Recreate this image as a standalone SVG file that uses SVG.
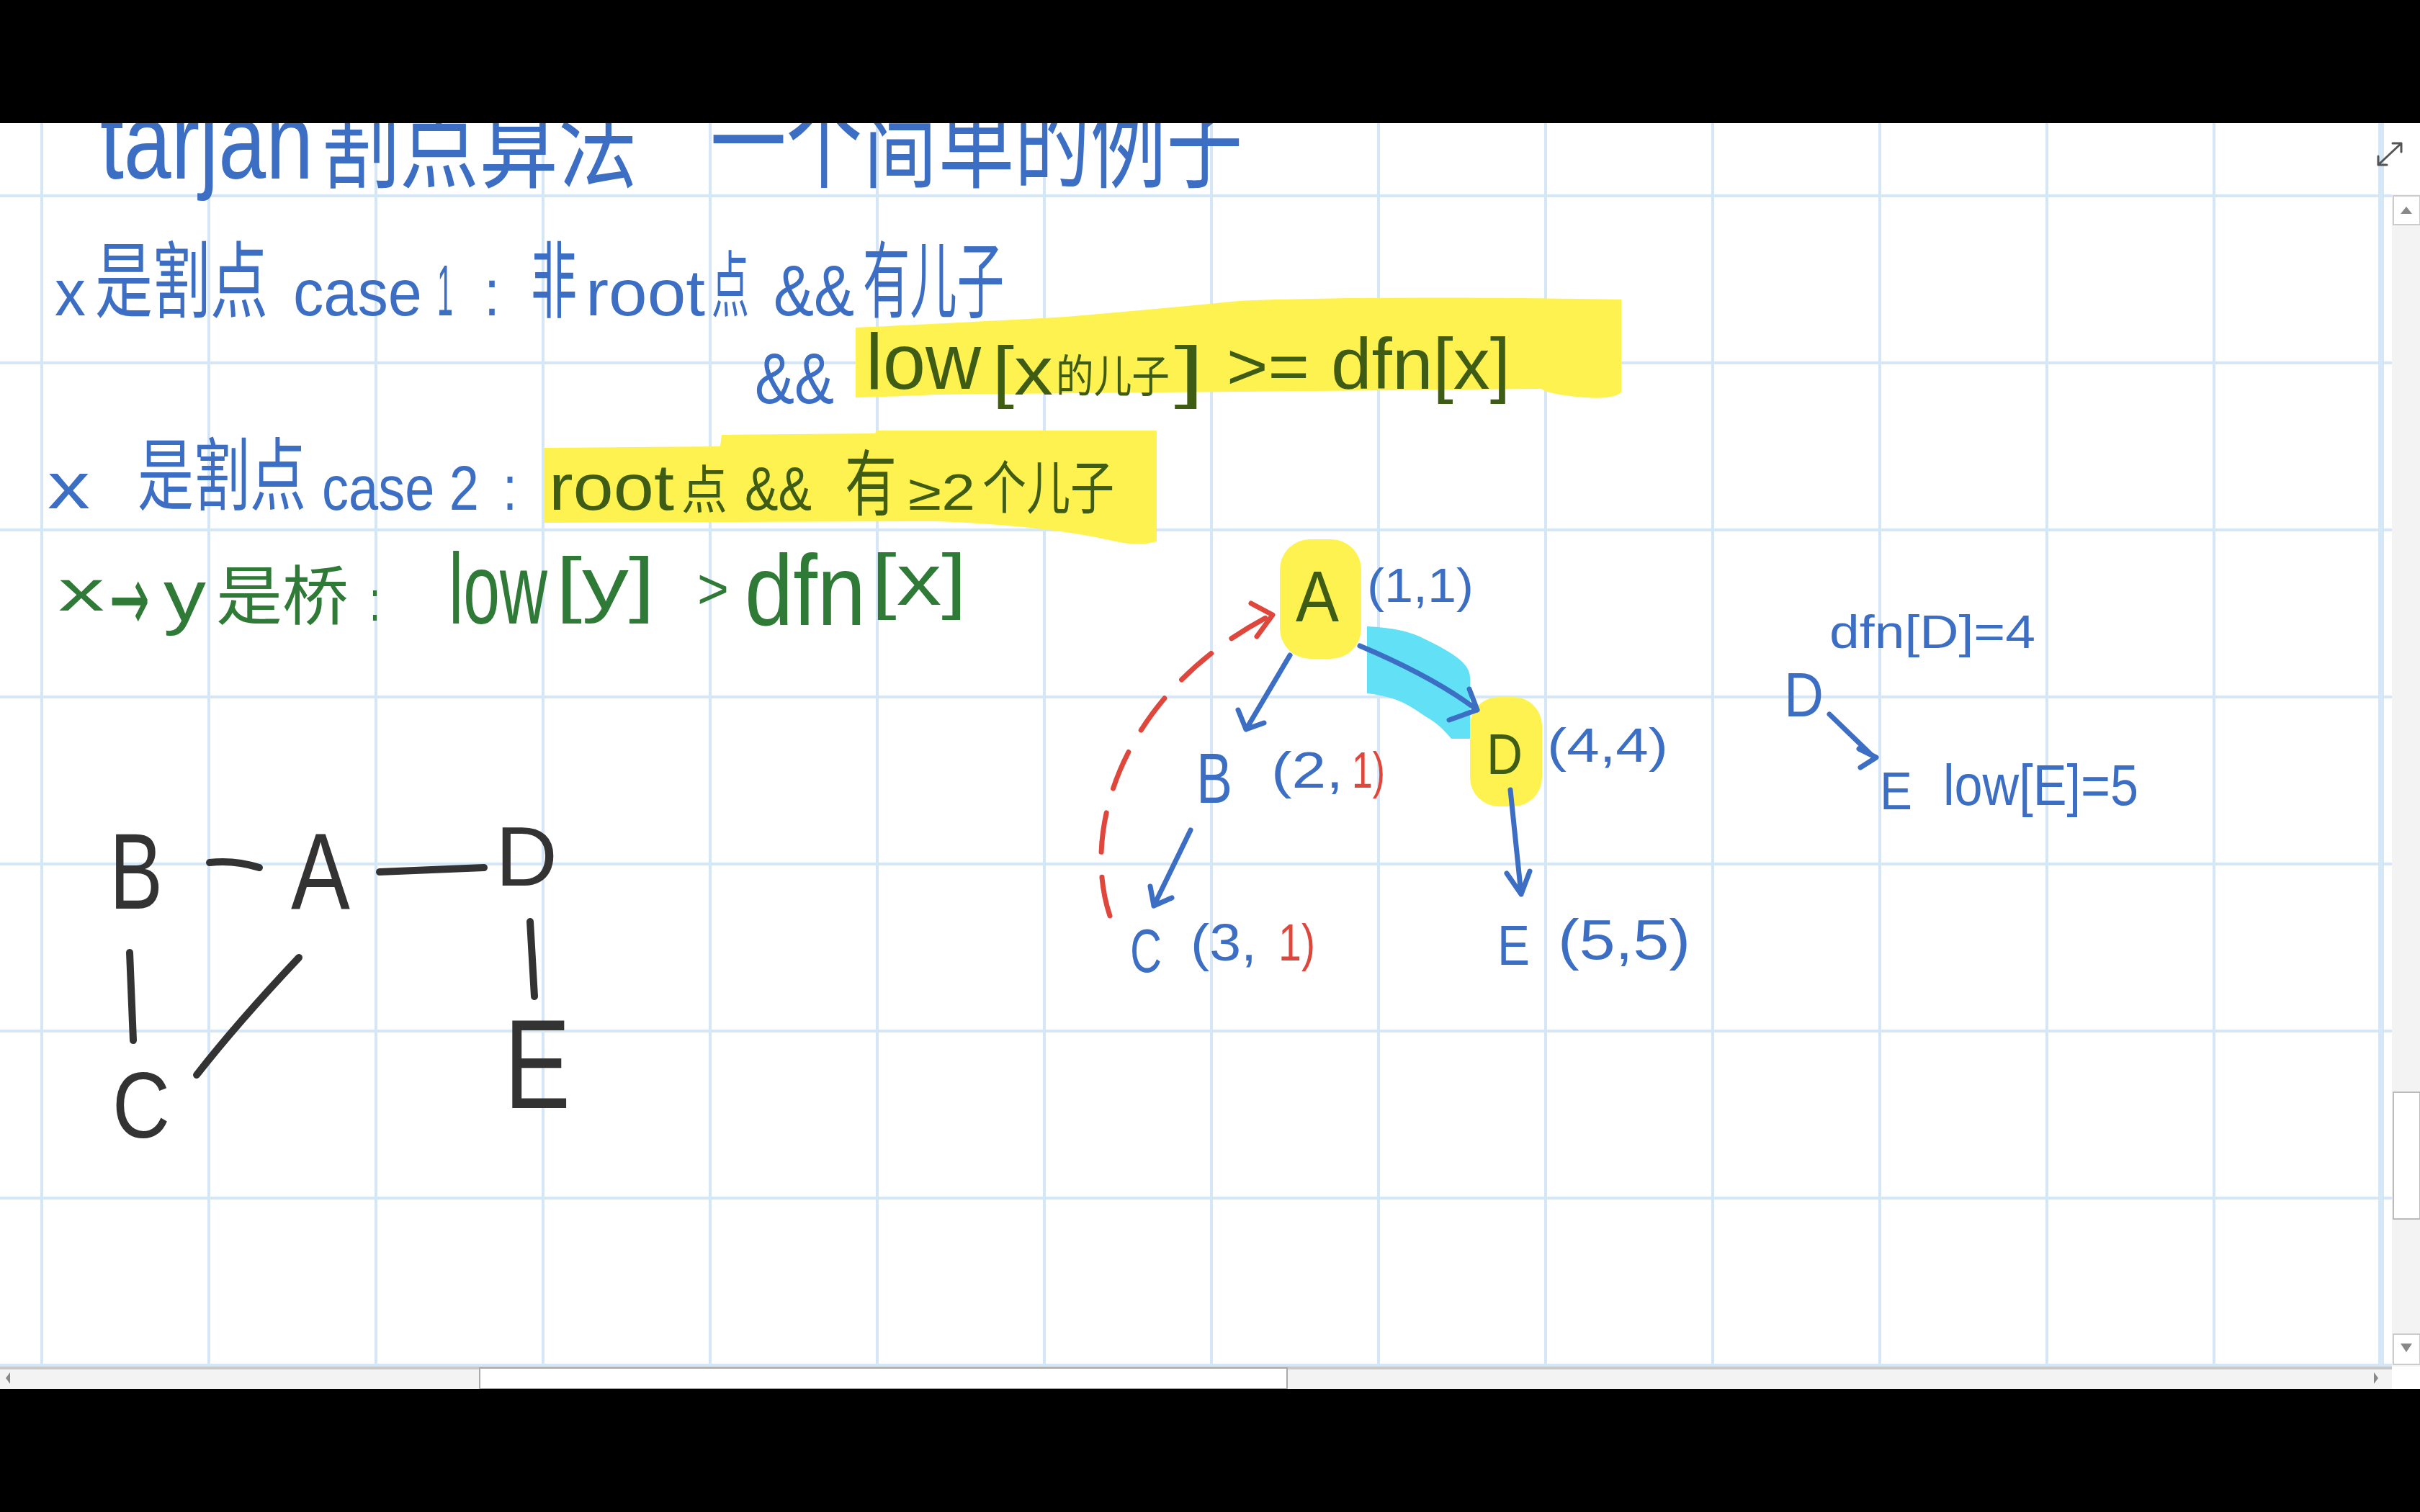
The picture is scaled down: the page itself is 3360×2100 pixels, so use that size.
<svg xmlns="http://www.w3.org/2000/svg" width="3360" height="2100" viewBox="0 0 3360 2100">
<style>
text{font-family:"Liberation Sans","Noto Sans CJK SC",sans-serif}
.cjk{font-family:"Noto Sans CJK SC","Liberation Sans",sans-serif}
.b{fill:#3c6ec4}
.g{fill:#2f7a36}
.o{fill:#3f5c14}
.r{fill:#e0473c}
.k{fill:#333333}
.grid line{stroke:#d5e7f6;stroke-width:4}
.gk{stroke:#333333;stroke-width:10;fill:none;stroke-linecap:round}
.ab{stroke:#3c6ec4;stroke-width:7;fill:none;stroke-linecap:round;stroke-linejoin:round}
.ar{stroke:#e0473c;stroke-width:7;fill:none;stroke-linecap:round;stroke-linejoin:round}
.hl{fill:#fef250}
</style>
<rect x="0" y="0" width="3360" height="2100" fill="#ffffff"/>
<g class="grid">
<line x1="0" y1="272" x2="3321" y2="272"/><line x1="0" y1="504" x2="3321" y2="504"/><line x1="0" y1="736" x2="3321" y2="736"/><line x1="0" y1="968" x2="3321" y2="968"/><line x1="0" y1="1200" x2="3321" y2="1200"/><line x1="0" y1="1432" x2="3321" y2="1432"/><line x1="0" y1="1664" x2="3321" y2="1664"/><line x1="0" y1="1896" x2="3321" y2="1896"/>
<line x1="58" y1="171" x2="58" y2="1898"/><line x1="290" y1="171" x2="290" y2="1898"/><line x1="522" y1="171" x2="522" y2="1898"/><line x1="754" y1="171" x2="754" y2="1898"/><line x1="986" y1="171" x2="986" y2="1898"/><line x1="1218" y1="171" x2="1218" y2="1898"/><line x1="1450" y1="171" x2="1450" y2="1898"/><line x1="1682" y1="171" x2="1682" y2="1898"/><line x1="1914" y1="171" x2="1914" y2="1898"/><line x1="2146" y1="171" x2="2146" y2="1898"/><line x1="2378" y1="171" x2="2378" y2="1898"/><line x1="2610" y1="171" x2="2610" y2="1898"/><line x1="2842" y1="171" x2="2842" y2="1898"/><line x1="3074" y1="171" x2="3074" y2="1898"/><line x1="3306" y1="171" x2="3306" y2="1898" style="stroke-width:8"/>
</g>

<!-- highlights -->
<path class="hl" d="M1188 455 Q1300 450 1480 440 Q1620 428 1720 418 Q1900 410 2251 416 L2251 545 Q2240 555 2200 552 Q2150 548 2140 540 L1300 548 Q1220 552 1188 552 Z"/>
<path class="hl" d="M755 622 L1000 620 L1002 604 L1215 602 L1217 598 L1606 598 L1606 752 Q1580 760 1540 750 Q1450 730 1300 724 L755 726 Z"/>
<rect class="hl" x="1777" y="749" width="113" height="166" rx="42"/>
<rect class="hl" x="2041" y="968" width="100" height="152" rx="40"/>
<path fill="#62e0f5" d="M1898 870 Q1950 872 1979 888 Q2015 905 2030 919 Q2041 930 2041 941 L2041 1026 L2015 1026 Q1998 1005 1979 995 Q1955 978 1939 972 Q1918 965 1898 963 Z"/>

<!-- title -->
<g id="title">
<text class="b" x="139" y="248" font-size="150" textLength="296" lengthAdjust="spacingAndGlyphs">tarjan</text>
<text class="b cjk" x="445" y="250" font-size="145" textLength="440" lengthAdjust="spacingAndGlyphs">割点算法</text>
<text class="b cjk" x="986" y="250" font-size="145" textLength="739" lengthAdjust="spacingAndGlyphs">一个简单的例子</text>
</g>

<!-- line 1 -->
<g id="rule-case1">
<text class="b" x="76" y="438" font-size="90" textLength="43" lengthAdjust="spacingAndGlyphs">x</text>
<text class="b cjk" x="132" y="432" font-size="116" textLength="240" lengthAdjust="spacingAndGlyphs">是割点</text>
<text class="b" x="407" y="438" font-size="90" textLength="179" lengthAdjust="spacingAndGlyphs">case</text>
<text class="b" x="607" y="438" font-size="100" textLength="22" lengthAdjust="spacingAndGlyphs">1</text>
<text class="b" x="672" y="438" font-size="90" textLength="22" lengthAdjust="spacingAndGlyphs">:</text>
<text class="b cjk" x="737" y="432" font-size="116" textLength="64" lengthAdjust="spacingAndGlyphs">非</text>
<text class="b" x="813" y="438" font-size="90" textLength="166" lengthAdjust="spacingAndGlyphs">root</text>
<text class="b cjk" x="988" y="432" font-size="100" textLength="52" lengthAdjust="spacingAndGlyphs">点</text>
<text class="b" x="1074" y="438" font-size="100" textLength="112" lengthAdjust="spacingAndGlyphs">&amp;&amp;</text>
<text class="b cjk" x="1198" y="432" font-size="116" textLength="196" lengthAdjust="spacingAndGlyphs">有儿子</text>
<text class="b" x="1048" y="560" font-size="100" textLength="110" lengthAdjust="spacingAndGlyphs">&amp;&amp;</text>
<text class="o" x="1202" y="540" font-size="110" textLength="160" lengthAdjust="spacingAndGlyphs">low</text>
<text class="o" x="1378" y="548" font-size="95" textLength="84" lengthAdjust="spacingAndGlyphs">[x</text>
<text class="o cjk" x="1466" y="545" font-size="62" textLength="158" lengthAdjust="spacingAndGlyphs">的儿子</text>
<text class="o" x="1630" y="548" font-size="95" textLength="42" lengthAdjust="spacingAndGlyphs">]</text>
<text class="o" x="1703" y="540" font-size="90" textLength="115" lengthAdjust="spacingAndGlyphs">&gt;=</text>
<text class="o" x="1848" y="540" font-size="100" textLength="249" lengthAdjust="spacingAndGlyphs">dfn[x]</text>
</g>

<!-- line 3 -->
<g id="rule-case2">
<text class="b" x="66" y="706" font-size="90" textLength="59" lengthAdjust="spacingAndGlyphs">x</text>
<text class="b cjk" x="191" y="700" font-size="110" textLength="234" lengthAdjust="spacingAndGlyphs">是割点</text>
<text class="b" x="447" y="708" font-size="88" textLength="218" lengthAdjust="spacingAndGlyphs">case 2</text>
<text class="b" x="698" y="708" font-size="88" textLength="20" lengthAdjust="spacingAndGlyphs">:</text>
<text class="o" x="762" y="708" font-size="90" textLength="174" lengthAdjust="spacingAndGlyphs">root</text>
<text class="o cjk" x="946" y="706" font-size="72" textLength="64" lengthAdjust="spacingAndGlyphs">点</text>
<text class="o" x="1034" y="708" font-size="85" textLength="93" lengthAdjust="spacingAndGlyphs">&amp;&amp;</text>
<text class="o cjk" x="1173" y="708" font-size="100" textLength="72" lengthAdjust="spacingAndGlyphs">有</text>
<text class="o" x="1261" y="708" font-size="70" textLength="93" lengthAdjust="spacingAndGlyphs">≥2</text>
<text class="o cjk" x="1364" y="706" font-size="80" textLength="183" lengthAdjust="spacingAndGlyphs">个儿子</text>
</g>

<!-- line 4 -->
<g id="rule-bridge">
<text class="g" x="81" y="848" font-size="80" textLength="64" lengthAdjust="spacingAndGlyphs">x</text>
<text class="g" x="152" y="876" font-size="130" textLength="56" lengthAdjust="spacingAndGlyphs" style="font-family:'DejaVu Sans',sans-serif">→</text>
<text class="g" x="227" y="862" font-size="100" textLength="59" lengthAdjust="spacingAndGlyphs">y</text>
<text class="g cjk" x="300" y="860" font-size="90" textLength="184" lengthAdjust="spacingAndGlyphs">是桥</text>
<text class="g" x="513" y="862" font-size="80" textLength="15" lengthAdjust="spacingAndGlyphs">:</text>
<text class="g" x="623" y="866" font-size="140" textLength="137" lengthAdjust="spacingAndGlyphs">low</text>
<text class="g" x="772" y="845" font-size="100" textLength="137" lengthAdjust="spacingAndGlyphs">[y]</text>
<text class="g" x="968" y="845" font-size="80" textLength="44" lengthAdjust="spacingAndGlyphs">&gt;</text>
<text class="g" x="1034" y="868" font-size="140" textLength="168" lengthAdjust="spacingAndGlyphs">dfn</text>
<text class="g" x="1210" y="840" font-size="100" textLength="132" lengthAdjust="spacingAndGlyphs">[x]</text>
</g>

<!-- left graph connectors -->
<g id="connectors-left">
<path class="gk" d="M291 1198 Q325 1194 360 1205"/>
<path class="gk" d="M527 1211 L672 1205"/>
<path class="gk" d="M180 1323 L185 1445"/>
<path class="gk" d="M415 1330 Q330 1420 273 1493"/>
<path class="gk" d="M736 1280 L742 1384"/>
</g>
<g id="left-B"><text class="k" x="152" y="1262" font-size="150" textLength="74" lengthAdjust="spacingAndGlyphs">B</text></g>
<g id="left-A"><text class="k" x="404" y="1262" font-size="150" textLength="82" lengthAdjust="spacingAndGlyphs">A</text></g>
<g id="left-D"><text class="k" x="688" y="1230" font-size="117" textLength="86" lengthAdjust="spacingAndGlyphs">D</text></g>
<g id="left-C"><text class="k" x="156" y="1580" font-size="130" textLength="80" lengthAdjust="spacingAndGlyphs">C</text></g>
<g id="left-E"><text class="k" x="700" y="1539" font-size="177" textLength="92" lengthAdjust="spacingAndGlyphs">E</text></g>

<!-- right tree connectors -->
<g id="connectors-tree">
<path class="ab" d="M1791 910 L1730 1013 M1719 986 L1730 1013 L1755 1004"/>
<path class="ab" d="M1888 897 Q1990 940 2051 986 M2012 1000 L2051 986 L2040 957"/>
<path class="ab" d="M1653 1153 L1602 1258 M1597 1231 L1602 1258 L1627 1247"/>
<path class="ab" d="M2097 1097 L2112 1242 M2092 1213 L2112 1242 L2124 1210"/>
<path class="ar" d="M1541 1272 C1500 1150 1560 960 1765 854" stroke-dasharray="55 35"/>
<path class="ar" d="M1737 838 L1767 854 L1745 884"/>
<path class="ab" d="M2540 992 L2600 1050 M2581 1040 L2605 1052 L2583 1066"/>
</g>

<g id="tree-A">
<text class="o" x="1799" y="863" font-size="100" textLength="60" lengthAdjust="spacingAndGlyphs">A</text>
<text class="b" x="1898" y="836" font-size="66" textLength="148" lengthAdjust="spacingAndGlyphs">(1,1)</text>
</g>
<g id="tree-B">
<text class="b" x="1661" y="1115" font-size="98" textLength="50" lengthAdjust="spacingAndGlyphs">B</text>
<text class="b" x="1765" y="1094" font-size="70" textLength="100" lengthAdjust="spacingAndGlyphs">(2,</text>
<text class="r" x="1877" y="1094" font-size="70" textLength="46" lengthAdjust="spacingAndGlyphs">1)</text>
</g>
<g id="tree-C">
<text class="b" x="1569" y="1350" font-size="85" textLength="44" lengthAdjust="spacingAndGlyphs">C</text>
<text class="b" x="1653" y="1334" font-size="72" textLength="92" lengthAdjust="spacingAndGlyphs">(3,</text>
<text class="r" x="1775" y="1334" font-size="72" textLength="51" lengthAdjust="spacingAndGlyphs">1)</text>
</g>
<g id="tree-D">
<text class="o" x="2064" y="1075" font-size="80" textLength="50" lengthAdjust="spacingAndGlyphs">D</text>
<text class="b" x="2148" y="1058" font-size="66" textLength="168" lengthAdjust="spacingAndGlyphs">(4,4)</text>
</g>
<g id="tree-E">
<text class="b" x="2079" y="1340" font-size="77" textLength="45" lengthAdjust="spacingAndGlyphs">E</text>
<text class="b" x="2163" y="1332" font-size="78" textLength="184" lengthAdjust="spacingAndGlyphs">(5,5)</text>
</g>
<g id="note">
<text class="b" x="2540" y="900" font-size="65" textLength="286" lengthAdjust="spacingAndGlyphs">dfn[D]=4</text>
<text class="b" x="2477" y="995" font-size="88" textLength="55" lengthAdjust="spacingAndGlyphs">D</text>
<text class="b" x="2610" y="1124" font-size="75" textLength="45" lengthAdjust="spacingAndGlyphs">E</text>
<text class="b" x="2698" y="1118" font-size="80" textLength="271" lengthAdjust="spacingAndGlyphs">low[E]=5</text>
</g>

<!-- UI chrome -->
<g id="expand-icon" stroke="#555" stroke-width="3" fill="none" stroke-linecap="round">
<path d="M3302 229 L3334 199 M3302 229 L3302 217 M3302 229 L3314 229 M3334 199 L3322 199 M3334 199 L3334 211"/>
</g>
<g id="scroll-v">
<rect x="3321" y="270" width="39" height="1628" fill="#f3f3f3"/>
<rect x="3323" y="272" width="37" height="40" fill="#ffffff" stroke="#cccccc" stroke-width="2"/>
<path d="M3333 297 L3341 287 L3349 297 Z" fill="#888"/>
<rect x="3323" y="1517" width="37" height="176" fill="#ffffff" stroke="#bbbbbb" stroke-width="2"/>
<rect x="3323" y="1853" width="37" height="42" fill="#ffffff" stroke="#cccccc" stroke-width="2"/>
<path d="M3333 1866 L3349 1866 L3341 1878 Z" fill="#888"/>
</g>
<g id="scroll-h">
<rect x="0" y="1898" width="3321" height="31" fill="#f3f3f3"/>
<rect x="0" y="1898" width="3321" height="4" fill="#c8c8c8"/>
<rect x="666" y="1900" width="1121" height="29" fill="#ffffff" stroke="#aaaaaa" stroke-width="2"/>
<path d="M14 1906 L8 1914 L14 1922 Z" fill="#888"/>
<path d="M3296 1906 L3302 1914 L3296 1922 Z" fill="#888"/>
<rect x="3321" y="1898" width="39" height="31" fill="#ffffff"/>
</g>
<rect x="0" y="0" width="3360" height="171" fill="#000000"/>
<rect x="0" y="1929" width="3360" height="171" fill="#000000"/>
</svg>
